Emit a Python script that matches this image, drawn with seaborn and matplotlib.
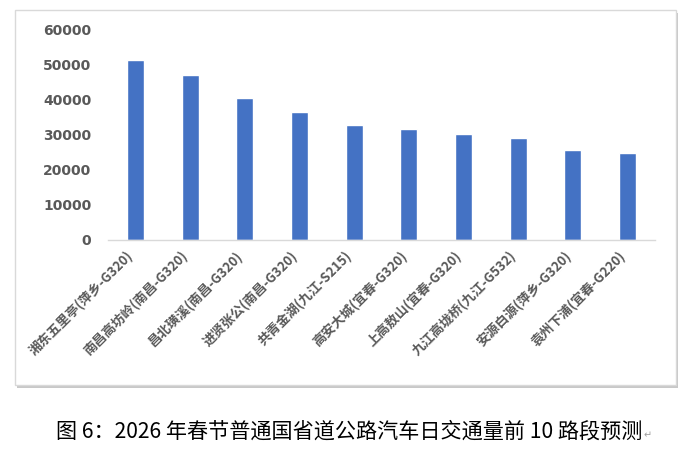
import numpy as np
import pandas as pd
import seaborn as sns
from matplotlib import pyplot as plt
from matplotlib.patches import Rectangle
from matplotlib.transforms import ScaledTranslation

sections = ['湘东五里亭(萍乡-G320)', '南昌高坊岭(南昌-G320)', '昌北璜溪(南昌-G320)',
            '进贤张公(南昌-G320)', '共青金湖(九江-S215)', '高安大城(宜春-G320)',
            '上高敖山(宜春-G320)', '九江高垅桥(九江-G532)', '安源白源(萍乡-G320)',
            '袁州下浦(宜春-G220)']
volumes = [51300, 47000, 40500, 36500, 32800, 31600, 30200, 29100, 25600, 24800]
y_ticks = [0, 10000, 20000, 30000, 40000, 50000, 60000]
caption = '图 6：2026 年春节普通国省道公路汽车日交通量前 10 路段预测'

sns.set_style('white')
plt.rcParams['font.family'] = ['Noto Sans CJK SC', 'DejaVu Sans']

W, H = 682, 462
fig = plt.figure(figsize=(W / 100, H / 100), dpi=100)

# chart frame with a soft shadow
x0, x1, y0, y1 = 15 / W, 676 / W, 1 - 385 / H, 1 - 10 / H
fig.patches.append(Rectangle((x0 + 2 / W, y0 - 3 / H), x1 - x0, y1 - y0,
                             transform=fig.transFigure, facecolor='#c8c8c8',
                             edgecolor='none', zorder=0))
fig.patches.append(Rectangle((x0, y0), x1 - x0, y1 - y0,
                             transform=fig.transFigure, facecolor='white',
                             edgecolor='#d9d9d9', linewidth=1, zorder=1))

ax = fig.add_axes([108 / W, 1 - 240 / H, 547 / W, 210 / H])
ax.set_zorder(2)
ax.patch.set_alpha(0)

df = pd.DataFrame({'section': sections, 'volume': volumes})
sns.barplot(data=df, x='section', y='volume', color='#4472C4', saturation=1,
            width=0.31, ax=ax)

ax.set_ylim(0, 60000)
ax.set_xlim(-0.5, len(sections) - 0.5)
ax.set_yticks(y_ticks)
ax.set_yticklabels([str(t) for t in y_ticks], fontweight='bold', color='#595959',
                   fontsize=10, family='DejaVu Sans')
ax.set_xticks(range(len(sections)))
ax.set_xticklabels(sections, rotation=45, ha='right', va='center',
                   rotation_mode='anchor', fontweight='bold', color='#595959',
                   fontsize=9.5)
ax.tick_params(axis='y', length=0, pad=12)
ax.tick_params(axis='x', length=0, pad=3)
shift = ScaledTranslation(-4 / 100, -10 / 100, fig.dpi_scale_trans)
for lab in ax.get_xticklabels():
    lab.set_transform(lab.get_transform() + shift)
ax.set_xlabel('')
ax.set_ylabel('')
for s in ['top', 'right', 'left']:
    ax.spines[s].set_visible(False)
ax.spines['bottom'].set_color('#d9d9d9')
ax.spines['bottom'].set_linewidth(1)

fig.text(0.512, 1 - 432 / H, caption, ha='center', va='center', fontsize=15.2,
         color='black')
fig.text(0.944, 1 - 435 / H, '↵', ha='left', va='center', fontsize=7,
         color='#a0a0a0', family=['DejaVu Sans'])

fig.savefig('out.png', dpi=100)
plt.close()
